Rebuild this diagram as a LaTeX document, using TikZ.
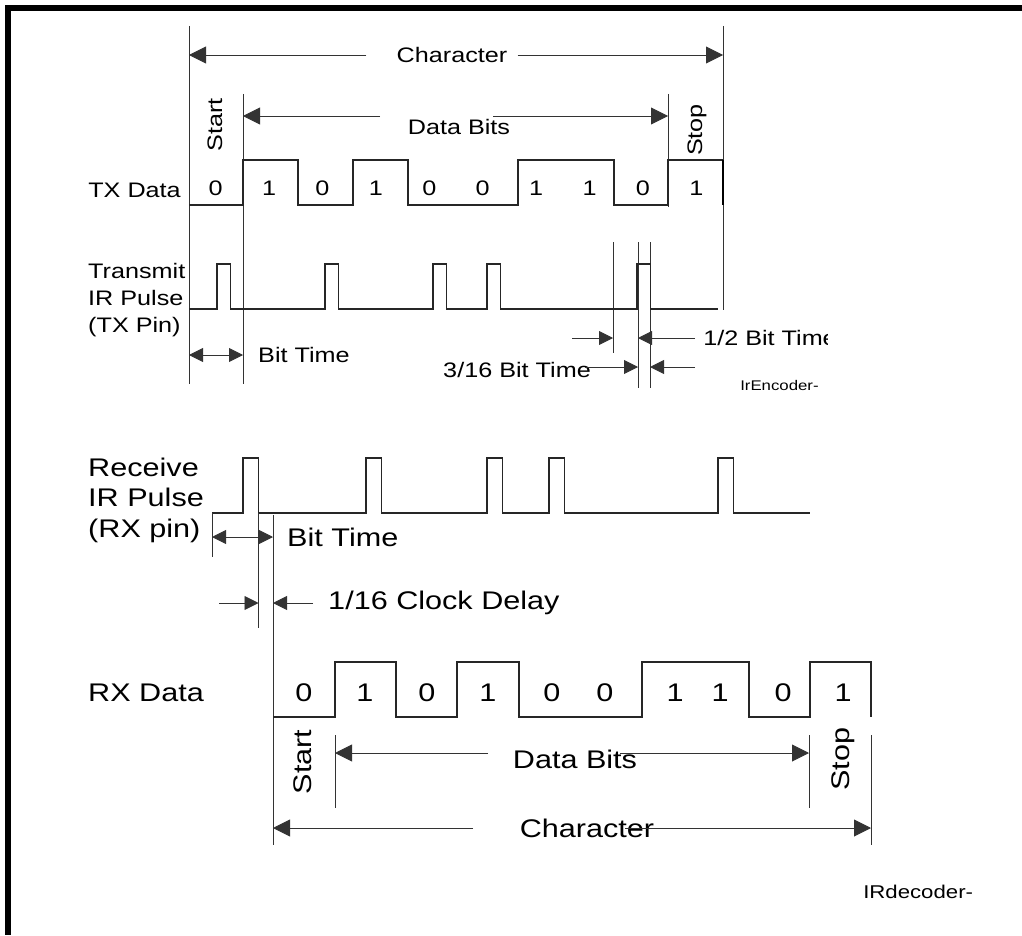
\documentclass[tikz,border=0pt]{standalone}
\usepackage{fontspec}
\setmainfont{Liberation Sans}
\usetikzlibrary{arrows.meta,calc,positioning}
\tikzset{
  sig/.style={line width=1.2pt, draw=black!85},
  tick/.style={line width=0.9pt, draw=black!80},
  dim/.style={tick, arrows={-Triangle[length=14pt,width=14pt]}},
  dimboth/.style={tick, arrows={Triangle[length=14pt,width=14pt]-Triangle[length=14pt,width=14pt]}},
  bigdim/.style={tick, arrows={-Triangle[length=17pt,width=17pt]}},
  smalltxt/.style={font=\fontsize{21}{27}\selectfont, xscale=1.2, inner sep=0pt},
  bigtxt/.style={font=\fontsize{25.5}{30.5}\selectfont, xscale=1.2, inner sep=0pt},
  smallrot/.style={font=\fontsize{21}{27}\selectfont, inner sep=0pt, rotate=90, xscale=1.2},
  bigrot/.style={font=\fontsize{25.5}{30.5}\selectfont, inner sep=0pt, rotate=90, xscale=1.2},
  tagtxt/.style={font=\fontsize{#1}{#1}\selectfont, xscale=1.2, inner sep=0pt},
}
\begin{document}
\begin{tikzpicture}[x=1pt,y=-1pt]
\useasboundingbox (0,0) rectangle (1022,936);
% frame
\fill (5,5) rectangle (1022,11);
\fill (5,5) rectangle (11,935);

% ---- encoder ----
\coordinate (ts) at (189,26);
\coordinate (te) at (723,26);
\coordinate (tb0) at (243,94);
\coordinate (tb1) at (668,94);
\draw[tick] (ts) -- (189,384);
\draw[tick] (te) -- (723,310);
\draw[tick] (tb0) -- (243,384);
\draw[tick] (tb1) -- (668,207);
\draw[tick] (613,242) -- (613,353);
\draw[tick] (638,242) -- (638,388);
\draw[tick] (650,242) -- (650,388);

\node[smalltxt] (chrt) at (452,55) {Character};
\draw[bigdim] ([xshift=-30pt]chrt.west) -- (ts|-chrt);
\draw[bigdim] ([xshift=10pt]chrt.east) -- (te|-chrt);

\node[smalltxt] (dbt) at (459,127) {Data Bits};
\coordinate (dbl) at (243,116);
\coordinate (dbr) at (668,116);
\draw[bigdim] (380,116) -- (dbl);
\draw[bigdim] (493,116) -- (dbr);

\node[smallrot] (startt) at (215,125) {Start};
\node[smallrot] (stopt) at (697,130) {Stop};

\node[smalltxt, anchor=east] (txlbl) at (181,190) {TX Data};
\draw[sig] (189,205) -- (243,205) -- (243,160) -- (298,160) -- (298,205)
  -- (353,205) -- (353,160) -- (408,160) -- (408,205) -- (518,205)
  -- (518,160) -- (614,160) -- (614,205) -- (668,205) -- (668,160)
  -- (723,160);
\draw[line width=1.8pt] (723,160) -- (723,205);
\foreach \d [count=\i from 0] in {0,1,0,1,0,0,1,1,0,1}
  \node[smalltxt] (tx\i) at (215.7+53.4*\i,188) {\d};

\node[smalltxt, anchor=west, align=left] (irtx) at (88,300) {Transmit\\IR Pulse\\(TX Pin)};
\draw[sig] (189,309) foreach \p in {217,325,433,487,637}
  { -- (\p,309) -- (\p,264) -- (\p+13.5,264) -- (\p+13.5,309) } -- (718,309);

% bit time / pulse widths
\coordinate (bta) at (189,355);
\coordinate (btb) at (243,355);
\draw[dimboth] (bta) -- (btb);
\node[smalltxt, anchor=west] (btt) at (258,355) {Bit Time};

\draw[dim] (572,338) -- (613,338);
\draw[dim] (695,338) -- (638,338);
\begin{scope}
  \clip (700,320) rectangle (827,356);
  \node[smalltxt, anchor=west] (halft) at (703,338) {1/2 Bit Time};
\end{scope}

\node[smalltxt, anchor=west] (t316) at (443,370) {3/16 Bit Time};
\draw[dim] ([xshift=-6pt]t316.east|-0,367) -- (638,367);
\draw[dim] (695,367) -- (650,367);

\node[tagtxt=14, anchor=west] (enc) at (740,385) {IrEncoder-};

% ---- decoder ----
\node[bigtxt, anchor=west, align=left] (irrx) at (88,500) {Receive\\IR Pulse\\(RX pin)};
\draw[sig] (212,513) foreach \p in {243,366,487,549,718}
  { -- (\p,513) -- (\p,458) -- (\p+15.5,458) -- (\p+15.5,513) } -- (810,513);

\coordinate (ra) at (212,513);
\coordinate (rb) at (258.5,513);
\coordinate (rc) at (273,515);
\draw[tick] (ra) -- (212,557);
\draw[tick] (rb) -- (258.5,628);
\draw[tick] (rc) -- (273,845);

\draw[dimboth] (ra|-0,537) -- (rc|-0,537);
\node[bigtxt, anchor=west] (btr) at (287,537) {Bit Time};

\draw[dim] (219,603) -- (rb|-0,603);
\draw[dim] (313,603) -- (rc|-0,603);
\node[bigtxt, anchor=west] (clk) at (328,603) {1/16 Clock Delay};

\node[bigtxt, anchor=west] (rxlbl) at (88,693) {RX Data};
\draw[sig] (273,717) -- (335,717) -- (335,662) -- (396,662) -- (396,717)
  -- (457,717) -- (457,662) -- (519,662) -- (519,717) -- (642,717)
  -- (642,662) -- (749,662) -- (749,717) -- (810,717) -- (810,662)
  -- (871,662) -- (871,717);
\foreach \d/\x [count=\i from 0] in {0/304,1/365,0/427,1/488,0/552,0/605,1/675,1/720,0/783,1/843}
  \node[bigtxt] (rx\i) at (\x,693) {\d};

\coordinate (rs) at (335,735);
\coordinate (rp) at (809,735);
\coordinate (re) at (871,735);
\draw[tick] (rs) -- (335,808);
\draw[tick] (rp) -- (809,808);
\draw[tick] (re) -- (871,845);

\node[bigrot] (startr) at (303,762) {Start};
\node[bigrot] (stopr) at (843,759) {Stop};

\node[bigtxt] (dbr2) at (575,759) {Data Bits};
\draw[bigdim] (488,753) -- (rs|-0,753);
\draw[bigdim] (620,753) -- (rp|-0,753);

\node[bigtxt] (chrr) at (587,828) {Character};
\draw[bigdim] (473,828) -- (rc|-0,828);
\draw[bigdim] (625,828) -- (re|-0,828);

\node[tagtxt=18.5, anchor=west] (dec) at (863,892) {IRdecoder-};
\end{tikzpicture}
\end{document}
